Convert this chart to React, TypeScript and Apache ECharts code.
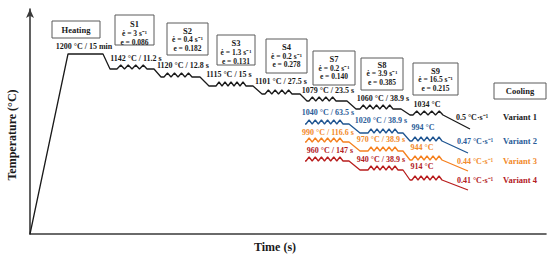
import React, { useEffect, useRef } from "react";
import * as echarts from "echarts";

// Schematic units: time t (arbitrary), temperature T (arbitrary, schematic scale)
const heatingPath: [number, number][] = [[0, 0], [38, 180], [73, 180]];

// main (variant 1) deformation steps
const mainLevels = [165, 157, 148, 140, 133, 125, 119];
const mainStepStart = [80, 131, 179, 232, 277, 326, 380];
const mainZigStart = [87, 134, 186, 235, 279, 330, 383];
const mainZigEnd = [117, 162, 216, 262, 306, 363, 413];
const mainStepEnd = [124, 170, 223, 270, 317, 371];
const mainTeeth = [4, 4, 5, 4, 4, 5, 4];
const mainCoolEnd: [number, number] = [440, 105];

// variant 2-4 steps
const varStepStart = [275, 330, 380];
const varZigStart = [276, 338, 382];
const varZigEnd = [313, 368, 412];
const varStepEnd = [319, 373];
const varTeeth = [6, 5, 5];
const blueLevels = [110, 101, 93];
const orangeLevels = [92, 83, 74];
const redLevels = [73, 64, 54];
const varCoolEndT = 438;
const varCoolEndTemp = [81, 63, 44];
const toothAmp = 4;

const heatLabel = "1200 °C / 15 min";
const mainLabels = ["1142 °C / 11.2 s", "1120 °C / 12.8 s", "1115 °C / 15 s", "1101 °C / 27.5 s", "1079 °C / 23.5 s", "1060 °C / 38.9 s", "1034 °C", "0.5 °C·s⁻¹"];
const blueLabels = ["1040 °C / 63.5 s", "1020 °C / 38.9 s", "994 °C", "0.47 °C·s⁻¹"];
const orangeLabels = ["990 °C / 116.6 s", "970 °C / 38.9 s", "944 °C", "0.44 °C·s⁻¹"];
const redLabels = ["960 °C / 147 s", "940 °C / 38.9 s", "914 °C", "0.41 °C·s⁻¹"];
const variantNames = ["Variant 1", "Variant 2", "Variant 3", "Variant 4"];
const passNames = ["S1", "S2", "S3", "S4", "S7", "S8", "S9"];
const strainRates = ["3", "0.4", "1.3", "0.2", "0.2", "3.9", "16.5"];
const strains = ["0.086", "0.182", "0.131", "0.278", "0.140", "0.385", "0.215"];

function buildPath(
  start: [number, number][],
  levels: number[],
  stepStart: number[],
  zigStart: number[],
  zigEnd: number[],
  stepEnd: number[],
  teeth: number[],
  coolEnd: [number, number]
): [number, number][] {
  const pts: [number, number][] = [...start];
  levels.forEach((L, i) => {
    pts.push([stepStart[i], L]);
    pts.push([zigStart[i], L]);
    const n = teeth[i];
    const w = (zigEnd[i] - zigStart[i]) / n;
    for (let k = 0; k < n; k++) {
      pts.push([zigStart[i] + (k + 0.5) * w, L + toothAmp]);
      pts.push([zigStart[i] + (k + 1) * w, L]);
    }
    if (i < stepEnd.length) pts.push([stepEnd[i], L]);
    else pts.push(coolEnd);
  });
  return pts;
}

const BLACK = "#1a1a1a";
const BLUE = "#1f5591";
const ORANGE = "#f5801f";
const RED = "#b81d1d";
const BLUE_T = "#2b5c98";
const ORANGE_T = "#f28a2a";
const RED_T = "#b3201e";
const FONT = '"Liberation Serif", "Times New Roman", serif';

export default function App() {
  const ref = useRef<HTMLDivElement>(null);
  useEffect(() => {
    if (!ref.current) return;
    const chart = echarts.init(ref.current, undefined, { renderer: "svg" });

    const mainPath = buildPath(heatingPath, mainLevels, mainStepStart, mainZigStart, mainZigEnd, mainStepEnd, mainTeeth, mainCoolEnd);
    const vp = (levels: number[], endT: number) =>
      buildPath([], levels, varStepStart, varZigStart, varZigEnd, varStepEnd, varTeeth, [varCoolEndT, endT]);

    const txt = (text: string, x: number, y: number, fill = BLACK, size = 8, extra: any = {}) => ({
      type: "text",
      x,
      y,
      z: 10,
      silent: true,
      style: {
        text,
        fill,
        font: `bold ${size}px ${FONT}`,
        textAlign: "center",
        textVerticalAlign: "middle",
        ...extra,
      },
    });
    const box = (x: number, y: number, w: number, h: number) => ({
      type: "rect",
      z: 5,
      shape: { x, y, width: w, height: h },
      style: { fill: "#fff", stroke: "#5a5a5a", lineWidth: 1 },
      silent: true,
    });

    const boxes: [number, number, number, number][] = [
      [115, 15, 39, 30],
      [167, 23, 41, 32],
      [217, 35, 38, 30],
      [266, 39, 41, 34],
      [313, 51, 42, 34],
      [361, 58, 42, 32],
      [413, 63, 45, 32],
    ];
    const boxLineY = [
      [24, 33, 42],
      [31, 39.5, 48],
      [43, 52, 61],
      [47, 56, 64],
      [59, 68, 76],
      [65, 73, 82],
      [71, 79, 88],
    ];
    const graphics: any[] = [];
    graphics.push(box(52, 21, 48, 17));
    graphics.push(txt("Heating", 76, 29.5, BLACK, 8.5));
    boxes.forEach((b, i) => {
      graphics.push(box(b[0], b[1], b[2], b[3]));
      const cx = b[0] + b[2] / 2;
      graphics.push(txt(passNames[i], cx, boxLineY[i][0], BLACK, 8.5));
      graphics.push(txt(`ė = ${strainRates[i]} s⁻¹`, cx, boxLineY[i][1], BLACK, 7.5));
      graphics.push(txt(`e = ${strains[i]}`, cx, boxLineY[i][2], BLACK, 7.5));
    });
    graphics.push(box(494, 83, 52, 16));
    graphics.push(txt("Cooling", 520, 91, BLACK, 8.5));

    graphics.push(txt(heatLabel, 84, 46.5));
    const mainPos: [number, number][] = [[136, 58.5], [183, 65.5], [229, 74.5], [281, 81.5], [328, 90.5], [383, 98.5], [427, 104.5], [472, 117]];
    mainLabels.forEach((t, i) => graphics.push(txt(t, mainPos[i][0], mainPos[i][1])));
    const bluePos: [number, number][] = [[328, 112], [381, 120.5], [423, 127], [475, 141]];
    blueLabels.forEach((t, i) => graphics.push(txt(t, bluePos[i][0], bluePos[i][1], BLUE_T)));
    const orangePos: [number, number][] = [[328, 132], [381, 139.5], [422, 147.5], [475, 161]];
    orangeLabels.forEach((t, i) => graphics.push(txt(t, orangePos[i][0], orangePos[i][1], ORANGE_T)));
    const redPos: [number, number][] = [[330, 150.5], [381, 159], [422, 166.5], [475, 180]];
    redLabels.forEach((t, i) => graphics.push(txt(t, redPos[i][0], redPos[i][1], RED_T)));
    const varColors = [BLACK, BLUE_T, ORANGE_T, RED_T];
    const varY = [117, 141, 161, 180];
    variantNames.forEach((t, i) => graphics.push(txt(t, 520, varY[i], varColors[i], 8.5)));

    const tempLabel: any = txt("Temperature (°C)", 12, 135, BLACK, 12);
    tempLabel.rotation = Math.PI / 2;
    graphics.push(tempLabel);
    graphics.push(txt("Time (s)", 275, 247, BLACK, 12));

    const lineSeries = (name: string, data: [number, number][], color: string) => ({
      name,
      type: "line",
      data,
      symbol: "none",
      lineStyle: { color, width: 1.3 },
      silent: true,
    });

    chart.setOption({
      animation: false,
      grid: { left: 30, right: 4, top: 9, bottom: 23 },
      xAxis: {
        type: "value",
        min: 0,
        max: 516,
        axisLine: { show: true, onZero: false, lineStyle: { color: "#3a3a3a", width: 1.6 } },
        axisTick: { show: false },
        axisLabel: { show: false },
        splitLine: { show: false },
      },
      yAxis: {
        type: "value",
        min: 0,
        max: 225,
        axisLine: {
          show: true,
          onZero: false,
          symbol: ["none", "arrow"],
          symbolSize: [6, 9],
          lineStyle: { color: "#3a3a3a", width: 1.6 },
        },
        axisTick: { show: false },
        axisLabel: { show: false },
        splitLine: { show: false },
      },
      series: [
        lineSeries("Variant 1", mainPath, BLACK),
        lineSeries("Variant 2", vp(blueLevels, varCoolEndTemp[0]), BLUE),
        lineSeries("Variant 3", vp(orangeLevels, varCoolEndTemp[1]), ORANGE),
        lineSeries("Variant 4", vp(redLevels, varCoolEndTemp[2]), RED),
      ],
      graphic: graphics,
    });
    return () => chart.dispose();
  }, []);
  return (
    <div
      ref={ref}
      style={{ position: "fixed", left: 0, top: 0, width: 550, height: 257, background: "#fff" }}
    />
  );
}
